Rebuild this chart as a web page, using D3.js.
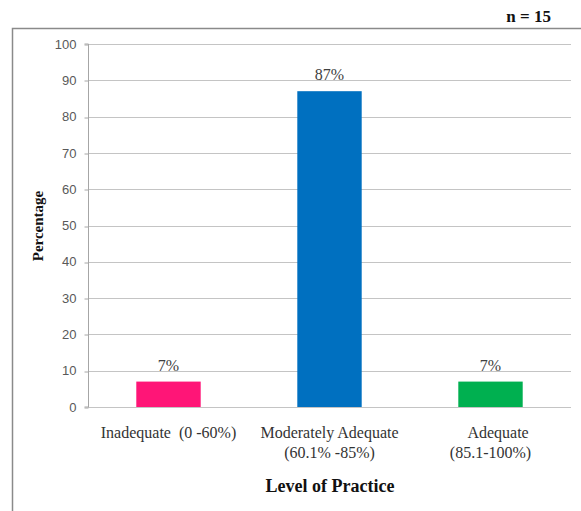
<!DOCTYPE html>
<html>
<head>
<meta charset="utf-8">
<script src="https://cdn.jsdelivr.net/npm/d3@7"></script>
<style>
  html, body { margin: 0; padding: 0; background: #fff; }
  svg { display: block; }
</style>
</head>
<body>
<div id="chart"></div>
<script>
// level of practice, n = 15
const categories = ["Inadequate", "Moderate", "Adequate"];
const categoryLines = [
  ["Inadequate  (0 -60%)"],
  ["Moderately Adequate", "(60.1% -85%)"],
  ["    Adequate", "(85.1-100%)"]
];
const percentages = [7, 87, 7];
const valueLabels = ["7%", "87%", "7%"];
const barColors = ["#ff1577", "#0070c0", "#00b050"];
const yTicks = [0, 10, 20, 30, 40, 50, 60, 70, 80, 90, 100];

const width = 581;
const height = 511;
const margin = { top: 44, right: 10, bottom: 104, left: 88 };
const plotW = 571 - margin.left;
const plotH = 407 - margin.top;

const svg = d3.select("#chart")
  .append("svg")
  .attr("width", width)
  .attr("height", height);

// outer frame (cut off at right and bottom)
svg.append("rect")
  .attr("x", 12.5)
  .attr("y", 28.5)
  .attr("width", 600)
  .attr("height", 520)
  .attr("fill", "none")
  .attr("stroke", "#8a8a8a")
  .attr("stroke-width", 1.5);

svg.append("text")
  .attr("x", 551)
  .attr("y", 22)
  .attr("text-anchor", "end")
  .attr("font-family", "Liberation Serif, Times New Roman, serif")
  .attr("font-weight", "bold")
  .attr("font-size", 17)
  .attr("fill", "#111")
  .text("n = 15");

const g = svg.append("g").attr("transform", `translate(${margin.left},${margin.top})`);

const x = d3.scaleBand()
  .domain(categories)
  .range([0, plotW])
  .paddingInner(0.6)
  .paddingOuter(0.3);

const y = d3.scaleLinear().domain([0, 100]).range([plotH, 0]);

// gridlines
g.append("g")
  .selectAll("line")
  .data(yTicks)
  .join("line")
  .attr("x1", 0)
  .attr("x2", plotW)
  .attr("y1", (d) => Math.round(y(d)) + 0.5)
  .attr("y2", (d) => Math.round(y(d)) + 0.5)
  .attr("stroke", "#c4c4c4")
  .attr("stroke-width", 1);

// y axis
const yAxis = g.append("g")
  .attr("transform", "translate(0.5,0)")
  .call(d3.axisLeft(y).tickValues(yTicks).tickSize(4).tickPadding(8));
yAxis.selectAll("path, line").attr("stroke", "#a6a6a6");
yAxis.select(".domain").attr("d", `M-4,${y(100)}H0V${plotH}H-4`);
yAxis.selectAll(".tick line").attr("transform", (d) => `translate(0,${Math.round(y(d)) + 0.5 - y(d)})`);
yAxis.selectAll("text")
  .attr("font-family", "Liberation Sans, Arial, sans-serif")
  .attr("font-size", 13)
  .attr("fill", "#595959");

// bars
g.append("g")
  .selectAll("rect")
  .data(percentages)
  .join("rect")
  .attr("x", (d, i) => x(categories[i]))
  .attr("y", (d) => y(d))
  .attr("width", x.bandwidth())
  .attr("height", (d) => plotH - y(d))
  .attr("fill", (d, i) => barColors[i]);

// value labels
g.append("g")
  .selectAll("text")
  .data(percentages)
  .join("text")
  .attr("x", (d, i) => x(categories[i]) + x.bandwidth() / 2)
  .attr("y", (d) => y(d) - 11)
  .attr("text-anchor", "middle")
  .attr("font-family", "Liberation Serif, Times New Roman, serif")
  .attr("font-size", 16)
  .attr("fill", "#404040")
  .text((d, i) => valueLabels[i]);

// category labels
const catG = g.append("g")
  .selectAll("text")
  .data(categoryLines)
  .join("text")
  .attr("text-anchor", "middle")
  .attr("font-family", "Liberation Serif, Times New Roman, serif")
  .attr("font-size", 16)
  .attr("fill", "#333")
  .style("white-space", "pre")
  .attr("transform", (d, i) => `translate(${x(categories[i]) + x.bandwidth() / 2},${plotH + 31})`);

catG.selectAll("tspan")
  .data((d) => d)
  .join("tspan")
  .attr("x", 0)
  .attr("y", (d, i) => i * 20)
  .text((d) => d);

// axis titles
svg.append("text")
  .attr("x", 330)
  .attr("y", 492)
  .attr("text-anchor", "middle")
  .attr("font-family", "Liberation Serif, Times New Roman, serif")
  .attr("font-weight", "bold")
  .attr("font-size", 18)
  .attr("fill", "#111")
  .text("Level of Practice");

svg.append("text")
  .attr("transform", "translate(43,226) rotate(-90)")
  .attr("text-anchor", "middle")
  .attr("font-family", "Liberation Serif, Times New Roman, serif")
  .attr("font-weight", "bold")
  .attr("font-size", 15)
  .attr("fill", "#111")
  .text("Percentage");
</script>
</body>
</html>
